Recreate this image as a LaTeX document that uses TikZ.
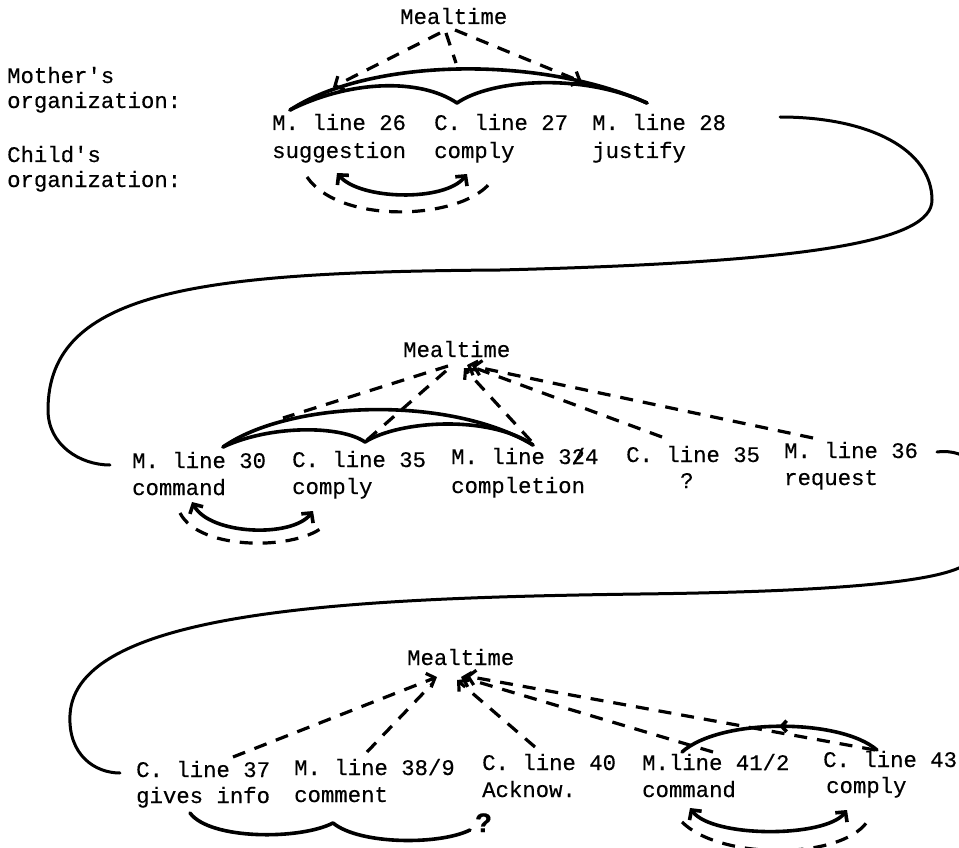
\documentclass[tikz,border=0pt]{standalone}
\usepackage{fontspec}
\setmonofont{Liberation Mono}[FakeBold=0.4]
\usetikzlibrary{arrows.meta,decorations.markings}
\begin{document}
\begin{tikzpicture}[x=1pt,y=-1pt,
  txt/.style={font=\ttfamily\fontsize{22.3}{26}\selectfont, inner sep=0pt, anchor=base west},
  hand/.style={line width=3.6pt, line cap=round, line join=round},
  dl/.style={line width=3.2pt, dash pattern=on 13pt off 10pt},
  serp/.style={line width=3pt, line cap=round},
  tp/.style={-{Straight Barb[length=7pt,width=15pt]}},
  tpboth/.style={{Straight Barb[length=7pt,width=15pt]}-{Straight Barb[length=7pt,width=15pt]}},
  midarrow/.style={postaction={decorate, decoration={markings,
      mark=at position 0.5 with {\arrow{Straight Barb[length=5pt,width=11pt]}}}}}
]
\useasboundingbox (0,0) rectangle (959,848);
\clip (0,0) rectangle (959,848);

% ---------- texts ----------
\node[txt] (meal1) at (400,24) {Mealtime};
\node[txt] (mo1) at (7,83) {Mother's};
\node[txt] (mo2) at (7,108) {organization:};
\node[txt] (ch1) at (7,162) {Child's};
\node[txt] (ch2) at (7,187) {organization:};
\node[txt] (a1) at (272,130) {M. line 26};
\node[txt] (a1b) at (272,158) {suggestion};
\node[txt] (a2) at (434,130) {C. line 27};
\node[txt] (a2b) at (434,158) {comply};
\node[txt] (a3) at (592,130) {M. line 28};
\node[txt] (a3b) at (592,158) {justify};

\node[txt] (meal2) at (403,357) {Mealtime};
\node[txt] (b1) at (132,468) {M. line 30};
\node[txt] (b1b) at (132,495) {command};
\node[txt] (b2) at (292,467) {C. line 35};
\node[txt] (b2b) at (292,494) {comply};
\node[txt] (b3) at (451,464) {M. line 3\rlap{2}/4};
\node[txt] (b3b) at (451,493) {completion};
\node[txt] (b4) at (626,462) {C. line 35};
\node[txt] (b4q) at (680,488) {?};
\node[txt] (b5) at (784,458) {M. line 36};
\node[txt] (b5b) at (784,485) {request};

\node[txt] (meal3) at (407,665) {Mealtime};
\node[txt] (c1) at (136,777) {C. line 37};
\node[txt] (c1b) at (136,803) {gives info};
\node[txt] (c2) at (294,775) {M. line 38/9};
\node[txt] (c2b) at (294,802) {comment};
\node[txt] (c3) at (482,770) {C. line 40};
\node[txt] (c3b) at (482,797) {Acknow.};
\node[txt] (c4) at (642,770) {M.line 41/2};
\node[txt] (c4b) at (642,797) {command};
\node[txt] (c5) at (823,767) {C. line 43};
\node[txt] (c5b) at (826,793) {comply};
\node[txt, font=\ttfamily\bfseries\fontsize{28}{30}\selectfont] (q) at (475,832) {?};

% ---------- coordinates ----------
% top
\coordinate (m1l) at (440,33);  \coordinate (tipA) at (333,87);
\coordinate (m1c) at (446,33);  \coordinate (m1cE) at (456,63);
\coordinate (m1r) at (455,30);  \coordinate (tipB) at (582,82);
\coordinate (A0) at (290,110);  \coordinate (A1) at (647,103);
\coordinate (Ac) at (457,103);
\coordinate (k1L) at (337,173); \coordinate (k1R) at (467,174);
\coordinate (k1dl) at (307,177); \coordinate (k1dr) at (490,183);
\coordinate (s1a) at (780,117); \coordinate (s1b) at (932,200);
\coordinate (s1c) at (500,270); \coordinate (s1d) at (48,410);
\coordinate (s1e) at (110,465);
% middle
\coordinate (B0) at (223,447);  \coordinate (B1) at (533,445);
\coordinate (Bc) at (365,442);
\coordinate (m2a) at (448,366); \coordinate (d2a) at (283,418);
\coordinate (m2b) at (447,370); \coordinate (Bcd) at (367,440);
\coordinate (B1d) at (531,441); \coordinate (m2c) at (464,368);
\coordinate (b4t) at (662,437); \coordinate (m2d) at (467,365);
\coordinate (b5t) at (813,438); \coordinate (m2e) at (472,366);
\coordinate (k2L) at (192,502); \coordinate (k2R) at (313,511);
\coordinate (k2dl) at (180,513); \coordinate (k2dr) at (325,525);
\coordinate (s2a) at (937,452); \coordinate (s2b) at (959,568);
\coordinate (s2c) at (640,594); \coordinate (s2d) at (70,715);
\coordinate (s2e) at (120,773);
% bottom
\coordinate (c1t) at (233,757); \coordinate (m3a) at (437,677);
\coordinate (c2t) at (367,752); \coordinate (m3b) at (432,684);
\coordinate (c3t) at (535,747); \coordinate (m3c) at (457,680);
\coordinate (c4t) at (713,752); \coordinate (m3d) at (461,677);
\coordinate (c5t) at (875,750); \coordinate (m3e) at (466,676);
\coordinate (D0) at (877,750);  \coordinate (D1) at (682,752);
\coordinate (k3L) at (690,808); \coordinate (k3R) at (847,810);
\coordinate (k3dl) at (682,822); \coordinate (k3dr) at (867,822);
\coordinate (E0) at (190,813);  \coordinate (Ec) at (333,823);
\coordinate (E1) at (470,830);

% ---------- top section ----------
\draw[dl,tp] (m1l) -- (tipA);
\draw[dl] (m1c) -- (m1cE);
\draw[dl,tp] (m1r) -- (tipB);
\draw[hand] (A0) .. controls (370,58) and (540,55) .. (A1);
\draw[hand] (A0) .. controls (350,80) and (420,78) .. (Ac)
             .. controls (490,80) and (580,72) .. (A1);
\draw[hand,tpboth] (k1L) .. controls (360,200) and (445,202) .. (k1R);
\draw[dl] (k1dl) .. controls (340,225) and (460,220) .. (k1dr);
\draw[serp] (s1a) .. controls (870,117) and (932,150) .. (s1b)
            .. controls (932,240) and (820,262) .. (s1c)
            .. controls (200,272) and (48,290) .. (s1d)
            .. controls (48,445) and (80,465) .. (s1e);

% ---------- middle section ----------
\draw[hand] (B0) .. controls (290,400) and (450,395) .. (B1);
\draw[hand] (B0) .. controls (270,425) and (340,425) .. (Bc)
             .. controls (400,420) and (490,415) .. (B1);
\draw[dl] (m2a) -- (d2a);
\draw[dl] (Bcd) -- (m2b);
\draw[dl,tp] (B1d) -- (m2c);
\draw[dl,tp] (b4t) -- (m2d);
\draw[dl,tp] (b5t) -- (m2e);
\draw[hand,tpboth] (k2L) .. controls (210,535) and (292,538) .. (k2R);
\draw[dl] (k2dl) .. controls (200,552) and (300,550) .. (k2dr);
\draw[serp] (s2a) .. controls (1000,444) and (1010,545) .. (s2b)
            .. controls (920,585) and (800,592) .. (s2c)
            .. controls (350,598) and (75,610) .. (s2d)
            .. controls (68,755) and (95,773) .. (s2e);

% ---------- bottom section ----------
\draw[dl,tp] (c1t) -- (m3a);
\draw[dl] (c2t) -- (m3b);
\draw[dl,tp] (c3t) -- (m3c);
\draw[dl,tp] (c4t) -- (m3d);
\draw[dl,tp] (c5t) -- (m3e);
\draw[hand,midarrow] (D0) .. controls (840,718) and (720,718) .. (D1);
\draw[hand,tpboth] (k3L) .. controls (712,838) and (825,838) .. (k3R);
\draw[dl] (k3dl) .. controls (720,860) and (840,860) .. (k3dr);
\draw[hand] (E0) .. controls (210,840) and (300,840) .. (Ec)
             .. controls (360,845) and (440,845) .. (E1);
\end{tikzpicture}
\end{document}
